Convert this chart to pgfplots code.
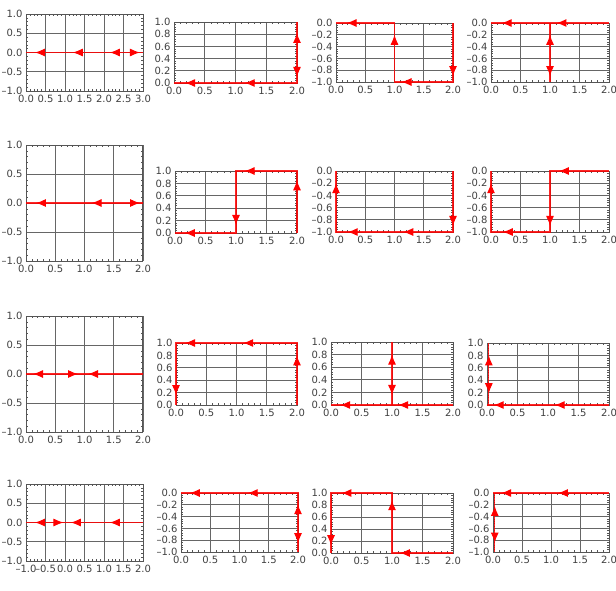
\documentclass[border=0pt]{standalone}
\usepackage{fontspec}
\setmainfont{DejaVu Sans}
\usepackage{pgfplots}
\pgfplotsset{compat=1.18}
\usetikzlibrary{arrows.meta}
\definecolor{framec}{HTML}{555555}
\definecolor{gridc}{HTML}{666666}
\definecolor{labc}{HTML}{404040}
\pgfplotsset{
  pan/.style={scale only axis, anchor=north west, clip=false,
    axis line style={draw=framec, line width=1pt},
    grid=major, major grid style={draw=gridc, line width=0.9pt},
    minor tick num=4, tick align=inside, major tick length=0pt, minor tick length=2pt,
    tick style={draw=framec, line width=0.6pt},
    xticklabel style={yshift=-1pt},
    tick label style={font=\fontsize{10}{11}\selectfont, text=labc}},
  pth/.style={red, line width=1.3pt, opacity=0.85},
  arr/.style={red, fill=red, line width=1pt, -{Latex[length=10pt,width=8pt]},
    quiver={u=\thisrow{u},v=\thisrow{v}}},
  x2/.style={xmin=0,xmax=2,xtick={0,0.5,1,1.5,2},xticklabels={0.0,0.5,1.0,1.5,2.0}},
  x3/.style={xmin=0,xmax=3,xtick={0,0.5,1,1.5,2,2.5,3},xticklabels={0.0,0.5,1.0,1.5,2.0,2.5,3.0}},
  xm/.style={xmin=-1,xmax=2,xtick={-1,-0.5,0,0.5,1,1.5,2},xticklabels={–1.0,–0.5,0.0,0.5,1.0,1.5,2.0}},
  yA/.style={ymin=-1,ymax=1,ytick={-1,-0.5,0,0.5,1},yticklabels={–1.0,–0.5,0.0,0.5,1.0}},
  yP/.style={ymin=0,ymax=1,ytick={0,0.2,0.4,0.6,0.8,1},yticklabels={0.0,0.2,0.4,0.6,0.8,1.0}},
  yN/.style={ymin=-1,ymax=0,ytick={-1,-0.8,-0.6,-0.4,-0.2,0},yticklabels={–1.0,–0.8,–0.6,–0.4,–0.2,0.0}},
}
\begin{document}
\begin{tikzpicture}
\useasboundingbox (0,0) rectangle (616pt,-590pt);
% row 1
\begin{axis}[pan, at={(26pt,-14pt)}, width=117pt, height=77pt, x3, yA]
\addplot[pth] coordinates {(0,0) (3,0)};
\addplot[arr] table[row sep=\\] {x y u v\\ 0.48 0 -0.25 0\\ 1.45 0 -0.25 0\\ 2.40 0 -0.25 0\\ 2.67 0 0.25 0\\};
\end{axis}
\begin{axis}[pan, at={(174pt,-22pt)}, width=123pt, height=61pt, x2, yP]
\addplot[pth] coordinates {(0,0) (2,0) (2,1)};
\addplot[arr] table[row sep=\\] {x y u v\\ 0.34 0 -0.16 0\\ 1.31 0 -0.16 0\\ 2 0.66 0 0.16\\ 2 0.26 0 -0.16\\};
\end{axis}
\begin{axis}[pan, at={(336pt,-23pt)}, width=117pt, height=59pt, x2, yN]
\addplot[pth] coordinates {(0,0) (1,0) (1,-1) (2,-1) (2,0)};
\addplot[arr] table[row sep=\\] {x y u v\\ 0.34 0 -0.16 0\\ 1 -0.36 0 0.16\\ 1.28 -1 -0.16 0\\ 2 -0.74 0 -0.16\\};
\end{axis}
\begin{axis}[pan, at={(491pt,-23pt)}, width=118pt, height=59pt, x2, yN]
\addplot[pth] coordinates {(0,0) (2,0)};
\addplot[pth] coordinates {(1,0) (1,-1)};
\addplot[arr] table[row sep=\\] {x y u v\\ 0.34 0 -0.16 0\\ 1.27 0 -0.16 0\\ 1 -0.36 0 0.16\\ 1 -0.74 0 -0.16\\};
\end{axis}
% row 2
\begin{axis}[pan, at={(26pt,-145pt)}, width=117pt, height=116pt, x2, yA]
\addplot[pth] coordinates {(0,0) (2,0)};
\addplot[arr] table[row sep=\\] {x y u v\\ 0.33 0 -0.16 0\\ 1.28 0 -0.16 0\\ 1.79 0 0.16 0\\};
\end{axis}
\begin{axis}[pan, at={(175pt,-171pt)}, width=122pt, height=62pt, x2, yP]
\addplot[pth] coordinates {(0,0) (1,0) (1,1) (2,1) (2,0)};
\addplot[arr] table[row sep=\\] {x y u v\\ 0.32 0 -0.16 0\\ 1 0.29 0 -0.16\\ 1.3 1 -0.16 0\\ 2 0.69 0 0.16\\};
\end{axis}
\begin{axis}[pan, at={(336pt,-171pt)}, width=117pt, height=61pt, x2, yN]
\addplot[pth] coordinates {(0,0) (0,-1) (2,-1) (2,0)};
\addplot[arr] table[row sep=\\] {x y u v\\ 0 -0.36 0 0.16\\ 0.36 -1 -0.16 0\\ 1.31 -1 -0.16 0\\ 2 -0.74 0 -0.16\\};
\end{axis}
\begin{axis}[pan, at={(491pt,-171pt)}, width=118pt, height=61pt, x2, yN]
\addplot[pth] coordinates {(0,0) (0,-1) (1,-1) (1,0) (2,0)};
\addplot[arr] table[row sep=\\] {x y u v\\ 1.31 0 -0.16 0\\ 1 -0.74 0 -0.16\\ 0.36 -1 -0.16 0\\ 0 -0.36 0 0.16\\};
\end{axis}
% row 3
\begin{axis}[pan, at={(26pt,-316pt)}, width=117pt, height=116pt, x2, yA]
\addplot[pth] coordinates {(0,0) (2,0)};
\addplot[arr] table[row sep=\\] {x y u v\\ 0.28 0 -0.16 0\\ 0.73 0 0.16 0\\ 1.22 0 -0.16 0\\};
\end{axis}
\begin{axis}[pan, at={(176pt,-343pt)}, width=121pt, height=62pt, x2, yP]
\addplot[pth] coordinates {(0,0) (0,1) (2,1) (2,0)};
\addplot[arr] table[row sep=\\] {x y u v\\ 0 0.32 0 -0.16\\ 0.31 1 -0.16 0\\ 1.27 1 -0.16 0\\ 2 0.64 0 0.16\\};
\end{axis}
\begin{axis}[pan, at={(331pt,-342pt)}, width=122pt, height=63pt, x2, yP]
\addplot[pth] coordinates {(0,0) (2,0)};
\addplot[pth] coordinates {(1,0) (1,1)};
\addplot[arr] table[row sep=\\] {x y u v\\ 0.31 0 -0.16 0\\ 1.26 0 -0.16 0\\ 1 0.64 0 0.16\\ 1 0.32 0 -0.16\\};
\end{axis}
\begin{axis}[pan, at={(487pt,-343pt)}, width=122pt, height=62pt, x2, yP]
\addplot[pth] coordinates {(0,0) (2,0)};
\addplot[pth] coordinates {(0.03,0) (0.03,1)};
\addplot[arr] table[row sep=\\] {x y u v\\ 0.03 0.64 0 0.16\\ 0.03 0.35 0 -0.16\\ 0.27 0 -0.16 0\\ 1.27 0 -0.16 0\\};
\end{axis}
% row 4
\begin{axis}[pan, at={(26pt,-484pt)}, width=117pt, height=77pt, xm, yA]
\addplot[pth] coordinates {(-1,0) (2,0)};
\addplot[arr] table[row sep=\\] {x y u v\\ -0.52 0 -0.25 0\\ -0.29 0 0.25 0\\ 0.40 0 -0.25 0\\ 1.40 0 -0.25 0\\};
\end{axis}
\begin{axis}[pan, at={(181pt,-493pt)}, width=117pt, height=59pt, x2, yN]
\addplot[pth] coordinates {(0,0) (2,0) (2,-1)};
\addplot[arr] table[row sep=\\] {x y u v\\ 0.31 0 -0.16 0\\ 1.3 0 -0.16 0\\ 2 -0.35 0 0.16\\ 2 -0.69 0 -0.16\\};
\end{axis}
\begin{axis}[pan, at={(331pt,-493pt)}, width=122pt, height=60pt, x2, yP]
\addplot[pth] coordinates {(0,0) (0,1) (1,1) (1,0) (2,0)};
\addplot[arr] table[row sep=\\] {x y u v\\ 1.29 0 -0.16 0\\ 1 0.72 0 0.16\\ 0.33 1 -0.16 0\\ 0 0.29 0 -0.16\\};
\end{axis}
\begin{axis}[pan, at={(493pt,-493pt)}, width=116pt, height=59pt, x2, yN]
\addplot[pth] coordinates {(0,0) (2,0)};
\addplot[pth] coordinates {(0.03,0) (0.03,-1)};
\addplot[arr] table[row sep=\\] {x y u v\\ 0.03 -0.38 0 0.16\\ 0.03 -0.68 0 -0.16\\ 0.3 0 -0.16 0\\ 1.28 0 -0.16 0\\};
\end{axis}
\end{tikzpicture}
\end{document}
